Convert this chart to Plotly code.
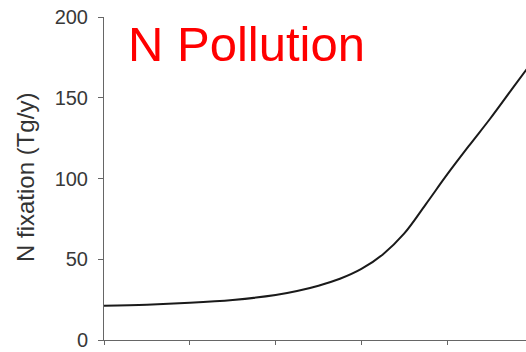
import plotly.graph_objects as go

years = [1900, 1910, 1920, 1930, 1940, 1945, 1950, 1955, 1960, 1965, 1970, 1975, 1980, 1985, 1990, 1995, 2000]
n_fixation = [21.2, 21.8, 23.0, 24.8, 27.8, 30.3, 33.6, 37.9, 44, 53, 66, 84, 102.5, 120, 137, 155, 173]

y_ticks = [0, 50, 100, 150, 200]
x_ticks = [1900, 1920, 1940, 1960, 1980, 2000]

W, H = 526, 352
ml, mr, mt, mb = 104, 0, 17, 12
pw = W - ml - mr
ph = H - mt - mb

fig = go.Figure()
fig.add_trace(go.Scatter(
    x=years, y=n_fixation, mode="lines",
    line=dict(color="#1a1a1a", width=2, shape="spline", smoothing=1.0),
    hoverinfo="skip", showlegend=False,
))

fig.update_layout(
    width=W, height=H,
    margin=dict(l=ml, r=mr, t=mt, b=mb, pad=0),
    paper_bgcolor="white", plot_bgcolor="white",
    font=dict(family="Liberation Sans, Arial, sans-serif", color="#333"),
)
fig.update_xaxes(
    range=[1900, 1900 + pw / 4.29], tickvals=x_ticks, showticklabels=False,
    ticks="outside", ticklen=4, tickcolor="#666", tickwidth=1,
    showline=True, linecolor="#666", linewidth=1, showgrid=False, zeroline=False,
)
fig.update_yaxes(
    range=[0, 200], tickvals=y_ticks,
    ticks="outside", ticklen=5, tickcolor="#666", tickwidth=1,
    tickfont=dict(size=20, color="#383838", family="Liberation Sans, Arial, sans-serif"),
    ticklabelstandoff=6, ticklabeloverflow="allow",
    showline=True, linecolor="#666", linewidth=1, showgrid=False, zeroline=False,
)

fig.add_annotation(
    text="N fixation (Tg/y)", textangle=-90,
    xref="paper", yref="paper",
    x=(25 - ml) / pw, y=(H - mb - 178) / ph,
    xanchor="center", yanchor="middle", showarrow=False,
    font=dict(size=24, color="#333", family="Liberation Sans, Arial, sans-serif"),
)
fig.add_annotation(
    text="N Pollution",
    xref="paper", yref="paper",
    x=(126 - ml) / pw, y=(H - mb - 44) / ph,
    xanchor="left", yanchor="middle", showarrow=False,
    font=dict(size=49, color="#ff0000", family="Liberation Sans, Arial, sans-serif"),
)

fig.write_html(
    "out.html",
    config={"displayModeBar": False, "staticPlot": True},
    post_script="document.body.style.margin='0';document.body.style.overflow='hidden';",
)
